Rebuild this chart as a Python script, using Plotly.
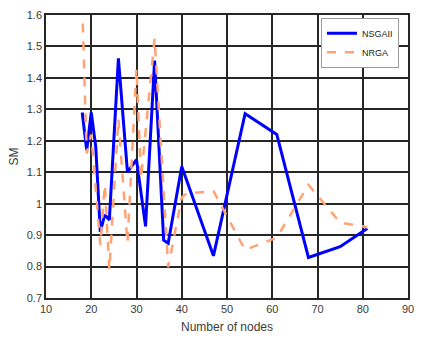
import plotly.graph_objects as go

nsga_x = [18, 19, 20, 21, 22, 23, 24, 26, 28, 30, 32, 34, 36, 37, 40, 47, 54, 61, 68, 75, 81]
nsga_y = [1.29, 1.17, 1.29, 1.18, 0.91, 0.965, 0.948, 1.462, 1.10, 1.14, 0.928, 1.455, 0.884, 0.874, 1.118, 0.834, 1.286, 1.22, 0.829, 0.863, 0.921]

nrga_x = [18, 19, 20, 22, 23, 24, 26, 28, 30, 31, 34, 37, 40, 41, 47, 54, 61, 68, 75, 81]
nrga_y = [1.63, 1.16, 1.22, 0.868, 1.06, 0.79, 1.27, 0.875, 1.43, 1.08, 1.525, 0.798, 1.02, 1.032, 1.04, 0.853, 0.892, 1.06, 0.94, 0.925]

fig = go.Figure()
fig.add_trace(go.Scatter(x=nsga_x, y=nsga_y, mode="lines", name="NSGAII",
                         line=dict(color="#0000FF", width=3)))
fig.add_trace(go.Scatter(x=nrga_x, y=nrga_y, mode="lines", name="NRGA",
                         line=dict(color="#FFA374", width=2.5, dash="dash")))

axis_common = dict(showgrid=True, gridcolor="#262626", gridwidth=1.5,
                   showline=True, linecolor="#262626", linewidth=1.5, mirror=True,
                   zeroline=False, ticks="inside", ticklen=4, tickcolor="#262626",
                   tickfont=dict(family="Liberation Sans, Arial", size=11, color="#3a3a3a"))

fig.update_layout(
    width=423, height=341,
    margin=dict(l=46, r=9, t=9, b=42),
    paper_bgcolor="white", plot_bgcolor="white",
    xaxis=dict(range=[10, 90], dtick=10, tick0=10,
               title=dict(text="Number of nodes", standoff=9,
                          font=dict(family="Liberation Sans, Arial", size=12, color="#3a3a3a")),
               **axis_common),
    yaxis=dict(range=[0.7, 1.6], dtick=0.1, tick0=0.7,
               title=dict(text="SM", standoff=6,
                          font=dict(family="Liberation Sans, Arial", size=12, color="#3a3a3a")),
               **axis_common),
    legend=dict(x=0.975, y=0.99, xanchor="right", yanchor="top",
                bgcolor="white", bordercolor="#9a9a9a", borderwidth=1,
                font=dict(family="Liberation Sans, Arial", size=9, color="#222222"),
                tracegroupgap=0, itemwidth=30),
    showlegend=True,
)

fig.write_html("out.html")
